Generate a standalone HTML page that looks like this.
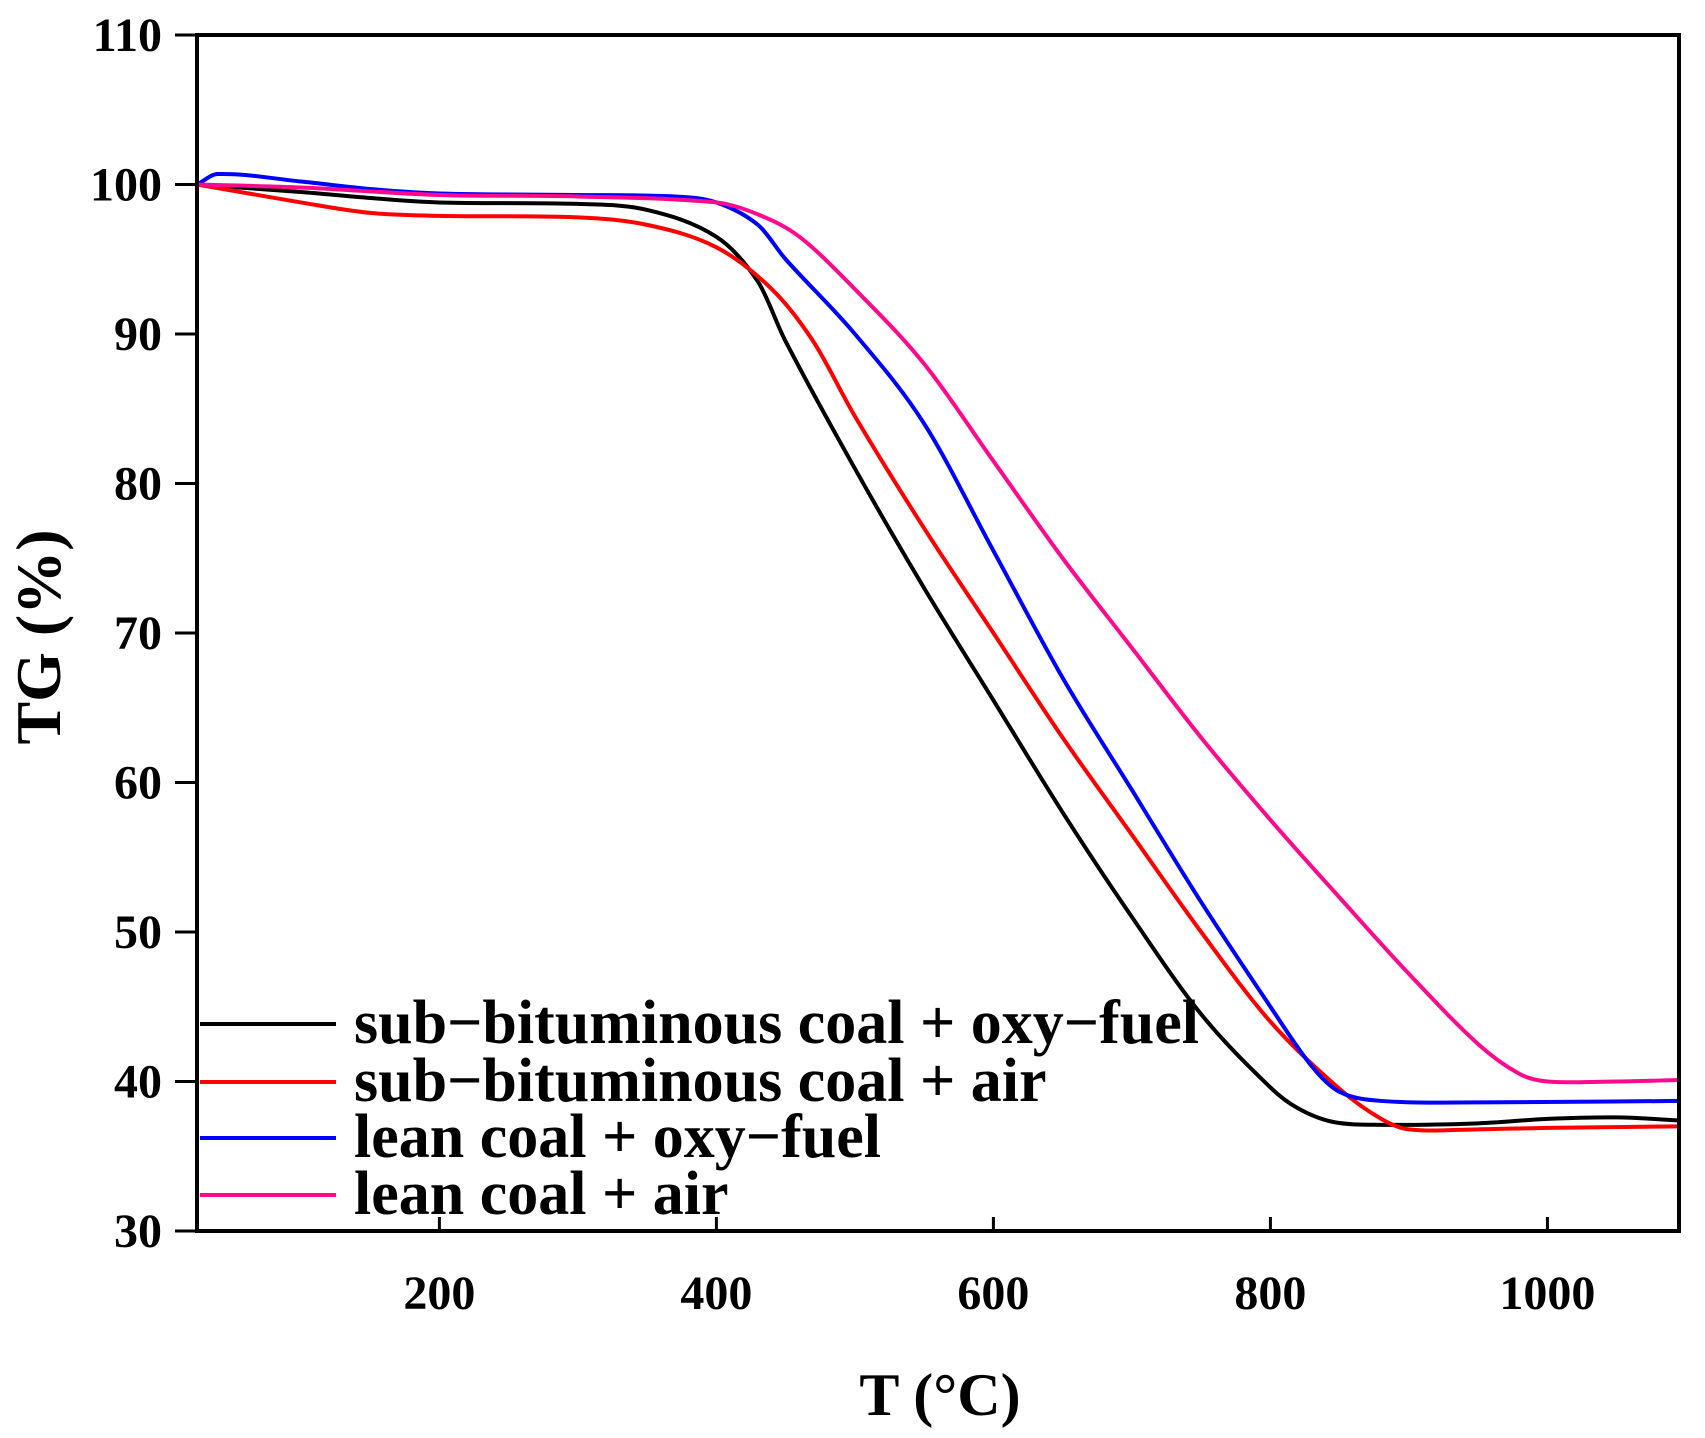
<!DOCTYPE html>
<html><head><meta charset="utf-8">
<style>
body{margin:0;background:#fff;}
svg{display:block;font-family:"Liberation Serif",serif;font-weight:bold;}
</style></head>
<body>
<svg id="chart" width="1705" height="1438"></svg>
<script>
const xTicks=[200,400,600,800,1000];
const yTicks=[30,40,50,60,70,80,90,100,110];
const seriesNames=["sub\u2212bituminous coal + oxy\u2212fuel","sub\u2212bituminous coal + air","lean coal + oxy\u2212fuel","lean coal + air"];
const seriesColors=["#000000","#ff0000","#0000ff","#ff0a8c"];
const blackX=[25,100,150,200,300,350,400,430,450,500,550,600,650,700,750,800,820,845,880,950,1000,1050,1095];
const blackY=[100,99.5,99.1,98.8,98.7,98.3,96.5,93.5,89.5,81,73,65.5,58,51,44.5,39.6,38.2,37.3,37.1,37.2,37.5,37.6,37.4];
const redX=[25,100,150,200,300,350,400,440,470,500,550,600,650,700,750,800,850,880,900,950,1000,1095];
const redY=[100,98.8,98.1,97.9,97.8,97.3,95.8,93,89.5,84.5,77,70,63,56.5,50,44,39.5,37.5,36.8,36.8,36.9,37];
const blueX=[25,40,100,150,200,300,370,400,430,450,500,550,600,650,700,750,800,830,850,880,950,1095];
const blueY=[100,100.7,100.2,99.7,99.4,99.3,99.2,98.8,97.3,95,90,84,75.5,67,59.5,52,45,41,39.3,38.7,38.6,38.7];
const pinkX=[25,100,200,300,400,430,460,500,550,600,650,700,750,800,850,900,950,980,1000,1050,1095];
const pinkY=[100,99.8,99.3,99.2,98.8,98,96.5,93,88,81.5,75,69,63,57.5,52.3,47.2,42.5,40.5,40,40,40.1];
const allX=[blackX,redX,blueX,pinkX], allY=[blackY,redY,blueY,pinkY];

const NS="http://www.w3.org/2000/svg";
const svg=document.getElementById('chart');
const L=197,R=1679,T=35,B=1231,xMin=25,xMax=1095,yMin=30,yMax=110;
const sx=v=>L+(v-xMin)/(xMax-xMin)*(R-L);
const sy=v=>B-(v-yMin)/(yMax-yMin)*(B-T);
function mk(tag,attrs,parent){const e=document.createElementNS(NS,tag);for(const k in attrs)e.setAttribute(k,attrs[k]);(parent||svg).appendChild(e);return e;}
function smooth(xs,ys){
  const p=xs.map((x,i)=>[sx(x),sy(ys[i])]);
  let d="M"+p[0][0]+","+p[0][1];
  for(let i=0;i<p.length-1;i++){
    const p0=p[i-1]||p[i],p1=p[i],p2=p[i+1],p3=p[i+2]||p2;
    const h=p2[0]-p1[0];
    const m1=(p2[1]-p0[1])/(p2[0]-p0[0]||1), m2=(p3[1]-p1[1])/(p3[0]-p1[0]||1);
    const c1=[p1[0]+h/3,p1[1]+m1*h/3];
    const c2=[p2[0]-h/3,p2[1]-m2*h/3];
    d+=" C"+c1+" "+c2+" "+p2;
  }
  return d;
}
const clip=mk('clipPath',{id:'pc'});mk('rect',{x:L,y:T,width:R-L,height:B-T},clip);
const g=mk('g',{'clip-path':'url(#pc)'});


for(let s=0;s<4;s++){
  const p=mk('path',{d:smooth(allX[s],allY[s]),fill:'none',stroke:seriesColors[s],'stroke-width':4},g);
  
  
}
const frame=mk('rect',{x:L,y:T,width:R-L,height:B-T,fill:'none',stroke:'#000','stroke-width':4});


xTicks.forEach(v=>{
  const x=sx(v);
  const t=mk('line',{x1:x,y1:B,x2:x,y2:B-14,stroke:'#000','stroke-width':3});
  
  
  const l=mk('text',{x:x,y:B+78,'font-size':48,'text-anchor':'middle'});l.textContent=v;
  
  
});
yTicks.forEach(v=>{
  const y=sy(v);
  const t=mk('line',{x1:L-22,y1:y,x2:L,y2:y,stroke:'#000','stroke-width':3});
  
  
  const l=mk('text',{x:L-35,y:y+16,'font-size':48,'text-anchor':'end'});l.textContent=v;
  
  
});
const xt=mk('text',{x:940,y:1415,'font-size':60,'text-anchor':'middle'});xt.textContent="T (\u00B0C)";


const yt=mk('text',{x:0,y:0,'font-size':64,'text-anchor':'middle',transform:'translate(60,637) rotate(-90)'});yt.textContent="TG (%)";


const legY=[1024,1082,1138,1195];
for(let s=0;s<4;s++){
  const ln=mk('line',{x1:200,y1:legY[s],x2:336,y2:legY[s],stroke:seriesColors[s],'stroke-width':4});
  
  
  const tx=mk('text',{x:354,y:legY[s]+19,'font-size':62});tx.textContent=seriesNames[s];
  
  
}
</script>
</body></html>
